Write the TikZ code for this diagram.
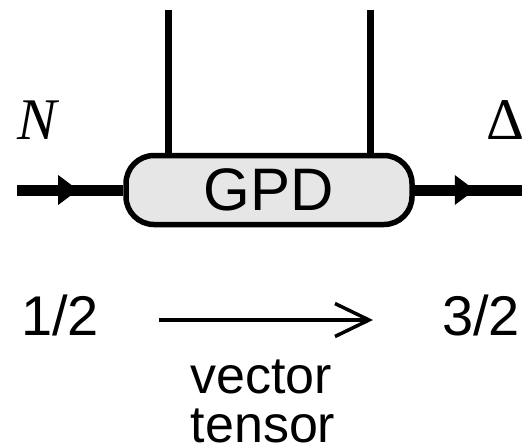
\documentclass[tikz,border=0pt]{standalone}
\usepackage{fontspec}
\setsansfont{Liberation Sans}
\newfontfamily\timesfont{Liberation Serif}
\usetikzlibrary{arrows.meta,decorations.markings}
\definecolor{boxfill}{HTML}{E6E6E6}
\tikzset{
  fermion/.style={line width=11pt},
  gluonleg/.style={line width=7pt},
  midtri/.style={postaction={decorate},
    decoration={markings, mark=at position #1 with {\fill (0,0) -- (-20pt,15pt) -- (-20pt,-15pt) -- cycle;}}},
  gpdbox/.style={draw, line width=5.5pt, fill=boxfill, rounded corners=28pt,
    minimum width=286pt, minimum height=69pt, inner sep=0pt,
    font=\sffamily\fontsize{60}{60}\selectfont},
  sflabel/.style={anchor=base, inner sep=0pt, font=\sffamily\fontsize{56}{56}\selectfont},
  smalllabel/.style={anchor=base, inner sep=0pt, font=\sffamily\fontsize{52}{52}\selectfont},
  particle/.style={inner sep=0pt, font=\timesfont\fontsize{59}{59}\selectfont},
}
\begin{document}
\begin{tikzpicture}[x=1pt,y=1pt]
\useasboundingbox (0,0) rectangle (529,-447);

% the GPD blob and its legs
\node[gpdbox] (gpd) at (269,-190) {GPD};
\coordinate (inleft) at (17,-190);
\coordinate (outright) at (522,-190);
\coordinate (legA) at (168,-10);
\coordinate (legB) at (370,-10);

\draw[gluonleg] (legA) -- (legA |- gpd.north);
\draw[gluonleg] (legB) -- (legB |- gpd.north);
\draw[fermion, midtri=0.575] (inleft) -- (gpd.west);
\draw[fermion, midtri=0.56] (gpd.east) -- (outright);

% particle labels
\node[particle] (nucleon) at (37,-120) {\itshape N};
\node[particle] (delta) at (505,-120) {Δ};

% spin transition
\node[sflabel] (spinin) at (60,-335) {1/2};
\node[sflabel] (spinout) at (481,-335) {3/2};
\coordinate (arrA) at (159,-320);
\coordinate (arrB) at (373,-320);
\draw[line width=3.5pt, -{Straight Barb[length=34pt,width=33pt,line width=3.5pt]}] (arrA) -- (arrB);

\node[smalllabel] (vec) at (261,-393) {vector};
\node[smalllabel] (ten) at (263,-442) {tensor};
\end{tikzpicture}
\end{document}
